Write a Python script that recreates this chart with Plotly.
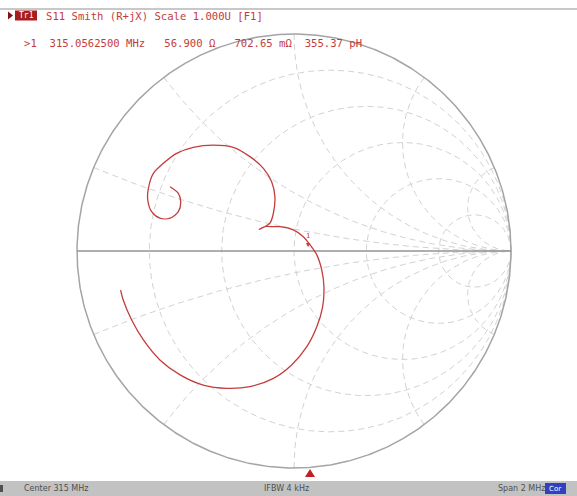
import numpy as np
import plotly.graph_objects as go

# ---- data (reflection coefficient) ----
gamma_re = [-0.571, -0.533, -0.522, -0.533, -0.571, -0.618, -0.656, -0.674, -0.671, -0.648,
            -0.602, -0.541, -0.464, -0.372, -0.280, -0.203, -0.141, -0.103, -0.088, -0.095,
            -0.111, -0.134, -0.160, -0.129, -0.095, -0.065, -0.003, 0.043, 0.074, 0.105,
            0.128, 0.138, 0.132, 0.105, 0.059, -0.011, -0.095, -0.203, -0.310, -0.418,
            -0.525, -0.618, -0.694, -0.748, -0.787, -0.799]
gamma_im = [0.296, 0.266, 0.227, 0.181, 0.151, 0.151, 0.181, 0.235, 0.289, 0.358,
            0.404, 0.450, 0.478, 0.488, 0.478, 0.435, 0.381, 0.319, 0.250, 0.174,
            0.128, 0.112, 0.100, 0.113, 0.112, 0.112, 0.097, 0.066, 0.028, -0.018,
            -0.088, -0.165, -0.257, -0.349, -0.441, -0.525, -0.587, -0.625, -0.633, -0.618,
            -0.571, -0.502, -0.410, -0.318, -0.226, -0.180]

z0 = 50.0
marker_r = 56.900      # ohm
marker_x = 0.70265     # ohm
grid_r = [0.2, 0.5, 1.0, 2.0, 5.0]
grid_x = [0.2, 0.5, 1.0, 2.0, 5.0]

trace_tag = "Tr1"
header1 = "S11 Smith (R+jX) Scale 1.000U [F1]"
header2 = ">1  315.0562500 MHz   56.900 Ω   702.65 mΩ  355.37 pH"
footer_l = "Center 315 MHz"
footer_c = "IFBW 4 kHz"
footer_r = "Span 2 MHz"
footer_box = "Cor"

RED = "#c43c3c"
GRID = "#d2d2d2"

fig = go.Figure()

t = np.linspace(0, 2 * np.pi, 721)
# constant-resistance circles
for r in grid_r:
    c = r / (r + 1); rad = 1 / (r + 1)
    fig.add_trace(go.Scatter(x=c + rad * np.cos(t), y=rad * np.sin(t), mode="lines",
                             line=dict(color=GRID, width=1, dash="6px,4px"), hoverinfo="skip"))
# constant-reactance arcs
for xv in grid_x:
    for s in (1, -1):
        z = 1j * s * xv + np.r_[np.linspace(0, 3, 200), np.logspace(np.log10(3.01), 4, 200)]
        g = (z - 1) / (z + 1)
        fig.add_trace(go.Scatter(x=g.real, y=g.imag, mode="lines",
                                 line=dict(color=GRID, width=1, dash="6px,4px"), hoverinfo="skip"))

# outer circle and real axis
fig.add_trace(go.Scatter(x=np.cos(t), y=np.sin(t), mode="lines",
                         line=dict(color="#a4a4a4", width=1.5), hoverinfo="skip"))
fig.add_trace(go.Scatter(x=[-1, 1], y=[0, 0], mode="lines",
                         line=dict(color="#939393", width=1.5), hoverinfo="skip"))

# trace
fig.add_trace(go.Scatter(x=gamma_re, y=gamma_im, mode="lines",
                         line=dict(color=RED, width=1.3, shape="spline", smoothing=0.8)))

# marker 1 (number above a small down-pointing triangle)
zm = complex(marker_r, marker_x) / z0
gm = (zm - 1) / (zm + 1)
fig.add_annotation(x=gm.real, y=gm.imag, text="1<br>▼", showarrow=False, yanchor="bottom",
                   yshift=-1, font=dict(color=RED, size=7, family="DejaVu Sans Mono"))

px_x0, px_y0, R = 294.0, 251.0, 217.0
W, H = 577, 496
fig.update_xaxes(range=[-px_x0 / R, (W - px_x0) / R], visible=False, fixedrange=True)
fig.update_yaxes(range=[(px_y0 - H) / R, px_y0 / R], visible=False, fixedrange=True)


def py(v):
    return 1 - v / H


mono = "DejaVu Sans Mono"
shapes = [
    dict(type="line", xref="paper", yref="paper", x0=0, x1=1, y0=py(9), y1=py(9),
         line=dict(color="#c8c8c8", width=2)),
    dict(type="rect", xref="paper", yref="paper", x0=0, x1=1, y0=0, y1=15 / H,
         fillcolor="#c2c2c2", line=dict(width=0), layer="below"),
    dict(type="rect", xref="paper", yref="paper", x0=15 / W, x1=37 / W, y0=py(20.5), y1=py(10.5),
         fillcolor="#a81c1c", line=dict(width=0)),
    dict(type="path", xref="paper", yref="paper",
         path=f"M {8/W} {py(11.5)} L {13/W} {py(15.5)} L {8/W} {py(19.5)} Z",
         fillcolor="#8a1010", line=dict(width=0)),
    dict(type="rect", xref="paper", yref="paper", x0=545 / W, x1=566 / W, y0=2 / H, y1=13 / H,
         fillcolor="#3040c0", line=dict(width=0)),
    dict(type="rect", xref="paper", yref="paper", x0=0, x1=3 / W, y0=4 / H, y1=11 / H,
         fillcolor="#505050", line=dict(width=0)),
    dict(type="path", xref="paper", yref="paper",
         path=f"M {305/W} {py(477)} L {315/W} {py(477)} L {310/W} {py(469)} Z",
         fillcolor="#c02020", line=dict(width=0)),
]
fig.update_layout(shapes=shapes)

ann = [
    dict(text=trace_tag, x=17 / W, y=py(15.5), font=dict(color="white", size=8, family=mono)),
    dict(text=header1, x=44 / W, y=py(15.5), font=dict(color=RED, size=10.6, family=mono)),
    dict(text=header2, x=22 / W, y=py(43.5), font=dict(color=RED, size=10.6, family=mono)),
    dict(text=footer_l, x=22 / W, y=7.5 / H, font=dict(color="#505050", size=8, family="DejaVu Sans")),
    dict(text=footer_c, x=262 / W, y=7.5 / H, font=dict(color="#505050", size=8, family="DejaVu Sans")),
    dict(text=footer_r, x=496 / W, y=7.5 / H, font=dict(color="#505050", size=8, family="DejaVu Sans")),
    dict(text=footer_box, x=547 / W, y=7.5 / H, font=dict(color="white", size=7, family="DejaVu Sans")),
]
for a in ann:
    fig.add_annotation(xref="paper", yref="paper", showarrow=False, xanchor="left", yanchor="middle", **a)

fig.update_layout(width=W, height=H, margin=dict(l=0, r=0, t=0, b=0),
                  paper_bgcolor="white", plot_bgcolor="white", showlegend=False)
fig.write_html("out.html", config={"displayModeBar": False},
               post_script="document.body.style.margin='0px';document.body.style.overflow='hidden';")
